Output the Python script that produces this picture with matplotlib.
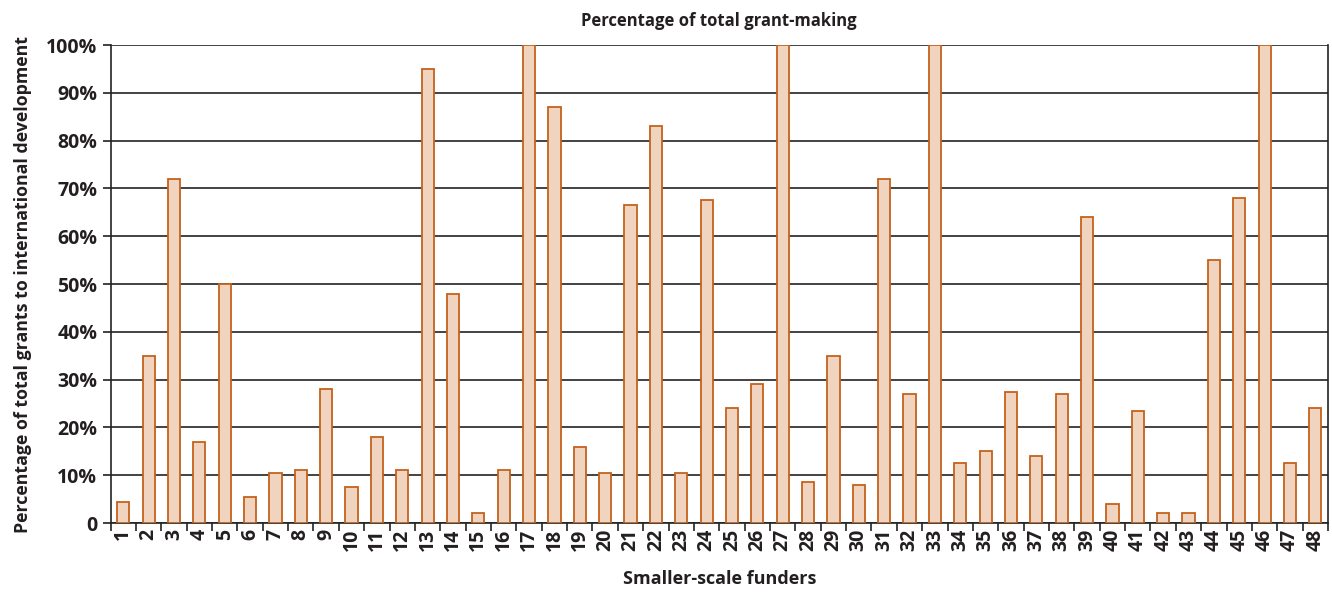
import numpy as np
import matplotlib
matplotlib.use('Agg')
import matplotlib.pyplot as plt
from matplotlib.ticker import FixedLocator, FuncFormatter

plt.rcParams['font.family'] = ['Open Sans', 'DejaVu Sans']
plt.rcParams['font.weight'] = 'bold'

# funder number and share of grants going to international development (%)
funders = list(range(1, 49))
shares = [4.5, 35, 72, 17, 50, 5.5, 10.5, 11, 28, 7.5,
          18, 11, 95, 48, 2, 11, 100, 87, 16, 10.5,
          66.5, 83, 10.5, 67.5, 24, 29, 100, 8.5, 35, 8,
          72, 27, 100, 12.5, 15, 27.5, 14, 27, 64, 4,
          23.5, 2, 2, 55, 68, 100, 12.5, 24]
y_ticks = [0, 10, 20, 30, 40, 50, 60, 70, 80, 90, 100]

fig = plt.figure(figsize=(13.32, 5.93), dpi=100)
ax = fig.add_axes([0.083, 0.118, 0.914, 0.806])

x = np.arange(len(funders))
ax.bar(x, shares, width=0.48, color='#f1d4c0', edgecolor='#c4621c', linewidth=1.3, zorder=3)

ax.set_xlim(-0.5, len(funders) - 0.5)
ax.set_ylim(0, 100)
ax.yaxis.set_major_locator(FixedLocator(y_ticks))
ax.yaxis.set_major_formatter(FuncFormatter(lambda v, p: '0' if v == 0 else f'{v:.0f}%'))
ax.grid(axis='y', color='#222222', linewidth=1.2, zorder=0)

ax.set_xticks(x)
ax.set_xticklabels([str(f) for f in funders], rotation=90)
ax.set_xticks(np.arange(-0.5, len(funders)), minor=True)
ax.tick_params(axis='x', which='major', length=0, pad=4, labelsize=14, colors='#231f20')
ax.tick_params(axis='x', which='minor', length=6, width=1.2, color='#222222')
ax.tick_params(axis='y', length=6, width=1.2, labelsize=14, colors='#231f20')

for side in ['left', 'bottom', 'right']:
    ax.spines[side].set_color('#222222')
    ax.spines[side].set_linewidth(1.2)
ax.spines['top'].set_visible(False)

ax.set_title('Percentage of total grant-making', fontsize=12, fontweight='bold', color='#231f20', pad=14)
ax.set_xlabel('Smaller-scale funders', fontsize=13, fontweight='bold', color='#231f20', labelpad=14)
ax.set_ylabel('Percentage of total grants to international development', fontsize=12.8,
              fontweight='bold', color='#231f20', labelpad=10)

fig.savefig('out.png', dpi=100)
